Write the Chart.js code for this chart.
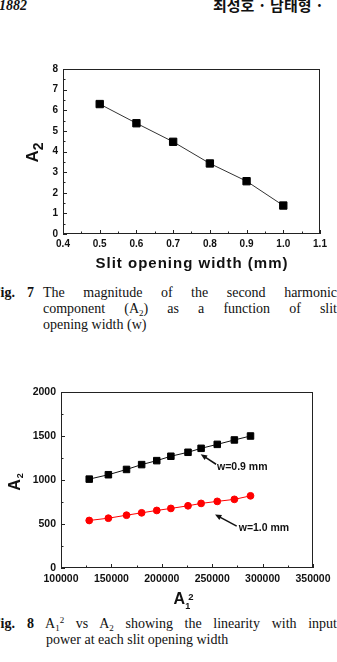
<!DOCTYPE html>
<html>
<head>
<meta charset="utf-8">
<script src="https://cdn.jsdelivr.net/npm/chart.js@4/dist/chart.umd.min.js"></script>
<style>
    body { margin: 0; width: 337px; height: 662px; overflow: hidden; background: #fff; position: relative; color: #111; font-family: "Liberation Serif", "Times New Roman", serif; }
    .t { position: absolute; white-space: nowrap; }
    canvas { position: absolute; left: 0; }
    .cap { position: absolute; font-size: 14px; line-height: 16px; white-space: nowrap; }
    .just { text-align: justify; text-align-last: justify; white-space: normal; }
    sub, sup { font-size: 9px; line-height: 0; }
    sub { vertical-align: -3px; }
    sup { vertical-align: 5px; }
</style>
</head>
<body>
<div class="t" style="left:-1px; top:-1px; font: italic bold 14px/14px 'Liberation Serif', serif;">1882</div>
<div class="t" style="left:213px; top:-4px; font: bold 15px/17px 'Noto Sans CJK KR', sans-serif;">최성호 · 남태형 ·</div>

<canvas id="chartFig7" width="337" height="225" style="top:50px"></canvas>

<div class="cap" style="left:-8px; top:285px; font-weight:bold;">Fig.</div>
<div class="cap" style="left:27px; top:285px; font-weight:bold;">7</div>
<div class="cap just" style="left:43px; top:285px; width:294px;">The magnitude of the second harmonic</div>
<div class="cap just" style="left:43px; top:301px; width:294px;">component (A<sub>2</sub>) as a function of slit</div>
<div class="cap" style="left:43px; top:317px;">opening width (w)</div>

<canvas id="chartFig8" width="337" height="240" style="top:370px"></canvas>

<div class="cap" style="left:-8px; top:616px; font-weight:bold;">Fig.</div>
<div class="cap" style="left:27px; top:616px; font-weight:bold;">8</div>
<div class="cap just" style="left:45px; top:616px; width:292px;">A<sub>1</sub><sup>2</sup> vs A<sub>2</sub> showing the linearity with input</div>
<div class="cap" style="left:46px; top:632px;">power at each slit opening width</div>

<script>
// рис. 7: A2 от ширины щели
const slitWidth = [0.5, 0.6, 0.7, 0.8, 0.9, 1.0];
const a2BySlit = [6.3, 5.37, 4.47, 3.42, 2.56, 1.38];

// рис. 8: A1^2 vs A2
const a1Squared = [128000, 147000, 165000, 180000, 195000, 209000, 226000, 239000, 255000, 272000, 288000];
const a2W09 = [1010, 1060, 1120, 1175, 1220, 1270, 1315, 1360, 1405, 1455, 1500];
const a2W10 = [540, 566, 600, 627, 654, 677, 707, 734, 757, 780, 820];

const sans = 'Liberation Sans, Arial, sans-serif';
const axisColor = '#222';

function toPoints(xs, ys) {
    return xs.map((x, i) => ({ x: x, y: ys[i] }));
}

// рамка и засечки внутрь (как в Origin)
const frameTicks = {
    id: 'frameTicks',
    beforeDatasetsDraw(chart) {
        const { ctx, chartArea: a, scales: { x, y } } = chart;
        ctx.save();
        ctx.strokeStyle = axisColor;
        ctx.lineWidth = 1;
        ctx.strokeRect(Math.round(a.left) + 0.5, Math.round(a.top) + 0.5,
            Math.round(a.right - a.left) - 1, Math.round(a.bottom - a.top) - 1);
        ctx.beginPath();
        const xt = x.ticks.map(t => t.value);
        const yt = y.ticks.map(t => t.value);
        xt.forEach((v, i) => {
            const px = Math.round(x.getPixelForValue(v)) + 0.5;
            ctx.moveTo(px, a.bottom); ctx.lineTo(px, a.bottom - 4);
            if (i < xt.length - 1) {
                const pm = Math.round(x.getPixelForValue((v + xt[i + 1]) / 2)) + 0.5;
                ctx.moveTo(pm, a.bottom); ctx.lineTo(pm, a.bottom - 2.5);
            }
        });
        yt.forEach((v, i) => {
            const py = Math.round(y.getPixelForValue(v)) + 0.5;
            ctx.moveTo(a.left, py); ctx.lineTo(a.left + 4, py);
            if (i < yt.length - 1) {
                const pm = Math.round(y.getPixelForValue((v + yt[i + 1]) / 2)) + 0.5;
                ctx.moveTo(a.left, pm); ctx.lineTo(a.left + 2.5, pm);
            }
        });
        ctx.stroke();
        ctx.restore();
    }
};

// подписи осей с индексами (A2, A1^2) и разрядкой
function richTitles(items) {
    return {
        id: 'richTitles',
        afterDraw(chart) {
            const { ctx, chartArea: a } = chart;
            const partWidth = p => {
                ctx.font = 'bold ' + p.size + 'px ' + sans;
                if (!p.spacing) return ctx.measureText(p.t).width;
                let w = 0;
                for (const ch of p.t) w += ctx.measureText(ch).width + p.spacing;
                return w - p.spacing;
            };
            ctx.save();
            ctx.fillStyle = '#111';
            ctx.textAlign = 'left';
            ctx.textBaseline = 'alphabetic';
            items.forEach(item => {
                let w = 0;
                item.parts.forEach(p => { w += (p.dx || 0) + partWidth(p); });
                ctx.save();
                if (item.axis === 'x') {
                    ctx.translate((a.left + a.right) / 2 + (item.shift || 0), a.bottom + item.gap);
                } else {
                    ctx.translate(a.left - item.gap, (a.top + a.bottom) / 2 + (item.shift || 0));
                    ctx.rotate(-Math.PI / 2);
                }
                let cx = -w / 2;
                item.parts.forEach(p => {
                    cx += p.dx || 0;
                    ctx.font = 'bold ' + p.size + 'px ' + sans;
                    if (p.spacing) {
                        let sx = cx;
                        for (const ch of p.t) {
                            ctx.fillText(ch, sx, p.dy || 0);
                            sx += ctx.measureText(ch).width + p.spacing;
                        }
                    } else {
                        ctx.fillText(p.t, cx, p.dy || 0);
                    }
                    cx += partWidth(p);
                });
                ctx.restore();
            });
            ctx.restore();
        }
    };
}

// стрелки с подписями на рис. 8
function arrowNotes(items) {
    return {
        id: 'arrowNotes',
        afterDatasetsDraw(chart) {
            const { ctx, scales: { x, y } } = chart;
            ctx.save();
            ctx.strokeStyle = '#111';
            ctx.fillStyle = '#111';
            ctx.lineWidth = 1.5;
            ctx.font = 'bold 10.5px ' + sans;
            ctx.textAlign = 'left';
            ctx.textBaseline = 'middle';
            items.forEach(n => {
                const x1 = x.getPixelForValue(n.from[0]), y1 = y.getPixelForValue(n.from[1]);
                const x2 = x.getPixelForValue(n.to[0]), y2 = y.getPixelForValue(n.to[1]);
                const ang = Math.atan2(y2 - y1, x2 - x1);
                ctx.beginPath();
                ctx.moveTo(x1, y1);
                ctx.lineTo(x2 - 4 * Math.cos(ang), y2 - 4 * Math.sin(ang));
                ctx.stroke();
                ctx.beginPath();
                ctx.moveTo(x2, y2);
                ctx.lineTo(x2 - 7 * Math.cos(ang - 0.4), y2 - 7 * Math.sin(ang - 0.4));
                ctx.lineTo(x2 - 7 * Math.cos(ang + 0.4), y2 - 7 * Math.sin(ang + 0.4));
                ctx.closePath();
                ctx.fill();
                ctx.fillText(n.text, x.getPixelForValue(n.at[0]), y.getPixelForValue(n.at[1]));
            });
            ctx.restore();
        }
    };
}

function tickFont(size) {
    return { family: sans, size: size, weight: 'bold' };
}

document.addEventListener('DOMContentLoaded', function () {

    new Chart(document.getElementById('chartFig7'), {
        type: 'line',
        data: {
            datasets: [{
                data: toPoints(slitWidth, a2BySlit),
                borderColor: '#333',
                borderWidth: 1,
                pointStyle: 'rect',
                pointRadius: 5.2,
                pointBackgroundColor: '#000',
                pointBorderColor: '#000',
                pointBorderWidth: 1
            }]
        },
        options: {
            responsive: false,
            animation: false,
            devicePixelRatio: 1,
            layout: { padding: { left: 0, right: 17, top: 19, bottom: 0 } },
            plugins: { legend: { display: false }, tooltip: { enabled: false } },
            scales: {
                x: {
                    type: 'linear', min: 0.4, max: 1.1,
                    ticks: { stepSize: 0.1, callback: v => v.toFixed(1), font: tickFont(10), color: '#111', padding: 4, maxRotation: 0, autoSkip: false },
                    grid: { display: false, drawTicks: false },
                    border: { display: false },
                    afterFit: s => { s.height = 41; }
                },
                y: {
                    type: 'linear', min: 0, max: 8,
                    ticks: { stepSize: 1, font: tickFont(10), color: '#111', padding: 5 },
                    grid: { display: false, drawTicks: false },
                    border: { display: false },
                    afterFit: s => { s.width = 63; }
                }
            }
        },
        plugins: [frameTicks, richTitles([
            { axis: 'x', gap: 33.5, shift: 0, parts: [{ t: 'Slit opening width (mm)', size: 15, spacing: 1 }] },
            { axis: 'y', gap: 25, shift: 1, parts: [{ t: 'A', size: 17 }, { t: '2', size: 14, dy: 5 }] }
        ])]
    });

    new Chart(document.getElementById('chartFig8'), {
        type: 'line',
        data: {
            datasets: [{
                label: 'w=0.9 mm',
                data: toPoints(a1Squared, a2W09),
                borderColor: '#111',
                borderWidth: 1,
                pointStyle: 'rect',
                pointRadius: 4.6,
                pointBackgroundColor: '#000',
                pointBorderColor: '#000',
                pointBorderWidth: 1
            }, {
                label: 'w=1.0 mm',
                data: toPoints(a1Squared, a2W10),
                borderColor: '#f00',
                borderWidth: 1,
                pointStyle: 'circle',
                pointRadius: 3.4,
                pointBackgroundColor: '#f00',
                pointBorderColor: '#f00',
                pointBorderWidth: 1
            }]
        },
        options: {
            responsive: false,
            animation: false,
            devicePixelRatio: 1,
            layout: { padding: { left: 0, right: 24, top: 22, bottom: 0 } },
            plugins: { legend: { display: false }, tooltip: { enabled: false } },
            scales: {
                x: {
                    type: 'linear', min: 100000, max: 350000,
                    ticks: { stepSize: 50000, callback: v => String(v), font: tickFont(10.5), color: '#111', padding: 5, maxRotation: 0, autoSkip: false },
                    grid: { display: false, drawTicks: false },
                    border: { display: false },
                    afterFit: s => { s.height = 42; }
                },
                y: {
                    type: 'linear', min: 0, max: 2000,
                    ticks: { stepSize: 500, callback: v => String(v), font: tickFont(10.5), color: '#111', padding: 5 },
                    grid: { display: false, drawTicks: false },
                    border: { display: false },
                    afterFit: s => { s.width = 61; }
                }
            }
        },
        plugins: [frameTicks, arrowNotes([
            { text: 'w=0.9 mm', from: [253800, 1179], to: [238600, 1293], at: [254800, 1151] },
            { text: 'w=1.0 mm', from: [274300, 475], to: [252800, 609], at: [276300, 456] }
        ]), richTitles([
            { axis: 'x', gap: 35.5, shift: -3.5, parts: [{ t: 'A', size: 16 }, { t: '1', size: 9, dy: 5 }, { t: '2', size: 9.5, dx: -2, dy: -4 }] },
            { axis: 'y', gap: 41, shift: 2, parts: [{ t: 'A', size: 16 }, { t: '2', size: 9, dx: 1, dy: 3 }] }
        ])]
    });

});
</script>
</body>
</html>
